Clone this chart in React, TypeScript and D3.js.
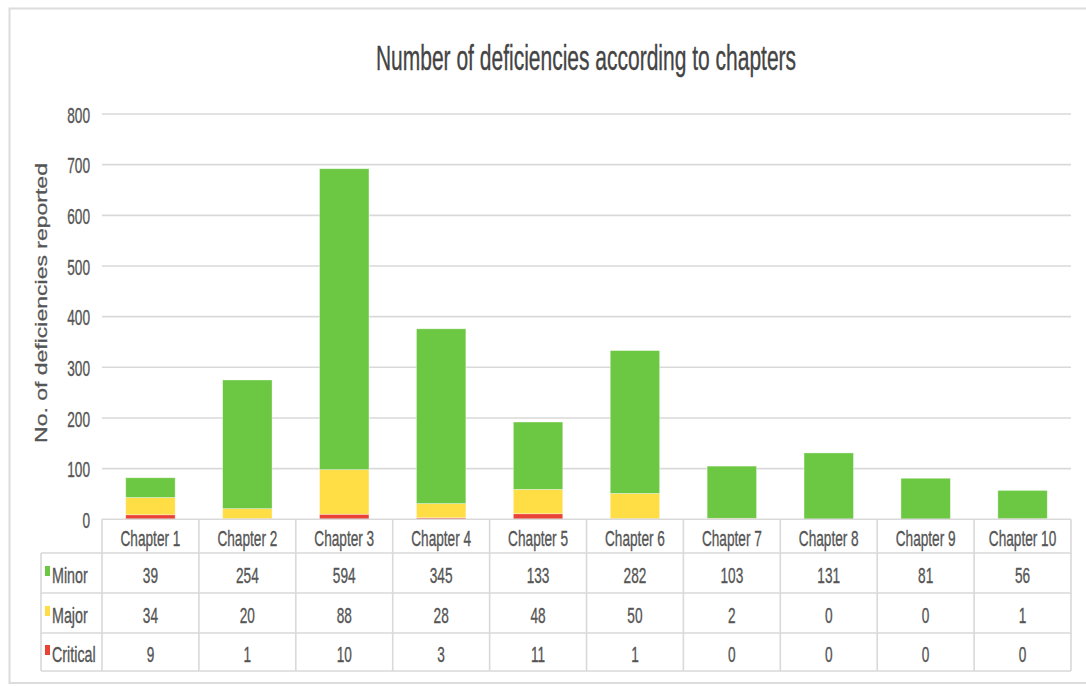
import React from "react";
import * as d3 from "d3";

// Chapters and deficiency counts per severity
const chapters = [
  "Chapter 1", "Chapter 2", "Chapter 3", "Chapter 4", "Chapter 5",
  "Chapter 6", "Chapter 7", "Chapter 8", "Chapter 9", "Chapter 10",
];
const minor = [39, 254, 594, 345, 133, 282, 103, 131, 81, 56];
const major = [34, 20, 88, 28, 48, 50, 2, 0, 0, 1];
const critical = [9, 1, 10, 3, 11, 1, 0, 0, 0, 0];
const yTicks = [0, 100, 200, 300, 400, 500, 600, 700, 800];

const seriesNames = ["Minor", "Major", "Critical"];
const seriesColors: Record<string, string> = {
  Minor: "#6cc742",
  Major: "#ffdd44",
  Critical: "#ea4237",
};

const W = 1086;
const H = 686;
const plotLeft = 102;
const plotRight = 1071;
const yZero = 519.3;
const yTop = 114;

const FONT = "'Liberation Sans', Arial, sans-serif";
const SX = 0.62; // condensed text width
const INK = "#555555";

type TxtProps = {
  x: number;
  y: number;
  size: number;
  anchor?: "start" | "middle" | "end";
  fill?: string;
  sx?: number;
  rotate?: number;
  children: React.ReactNode;
};

function Txt({ x, y, size, anchor = "middle", fill = INK, sx = SX, rotate = 0, children }: TxtProps) {
  return (
    <text
      transform={`translate(${x},${y}) scale(${sx},1)${rotate ? ` rotate(${rotate})` : ""}`}
      textAnchor={anchor}
      dominantBaseline="central"
      fontFamily={FONT}
      fontSize={size}
      fill={fill}
      stroke={fill}
      strokeWidth={0.35}
    >
      {children}
    </text>
  );
}

export default function App() {
  const x = d3.scaleBand<string>().domain(chapters).range([plotLeft, plotRight]).padding(0);
  const y = d3.scaleLinear().domain([0, 800]).range([yZero, yTop]);
  const bw = x.bandwidth();
  const barW = bw * 0.51;

  const rows = chapters.map((c, i) => ({
    chapter: c,
    Critical: critical[i],
    Major: major[i],
    Minor: minor[i],
  }));
  const stack = d3.stack<any>().keys(["Critical", "Major", "Minor"]);
  const layers = stack(rows);

  const tableValues: Record<string, number[]> = { Minor: minor, Major: major, Critical: critical };
  const headerTop = yZero;
  const rowEdges = [553, 593, 633, 671];
  const legendLeft = 41;
  const border = "#d9d9d9";

  return (
    <svg
      width={W}
      height={H}
      viewBox={`0 0 ${W} ${H}`}
      style={{ position: "absolute", left: 0, top: 0, background: "#fff" }}
    >
      {/* outer frame, running off the right edge */}
      <path d={`M${W + 5},8.5 H9.5 V683 H${W + 5}`} fill="none" stroke="#dcdcdc" strokeWidth={2} />

      <Txt x={586} y={58} size={35} sx={0.6} fill="#444444">
        Number of deficiencies according to chapters
      </Txt>

      {/* gridlines and y tick labels */}
      {yTicks.map((t) => (
        <g key={t}>
          {t > 0 && (
            <line x1={plotLeft} x2={plotRight} y1={y(t)} y2={y(t)} stroke={border} strokeWidth={1.6} />
          )}
          <Txt x={90} y={y(t) + 1} size={22} anchor="end">
            {t}
          </Txt>
        </g>
      ))}

      <Txt x={41} y={303} size={23} sx={0.7} rotate={-90}>
        No. of deficiencies reported
      </Txt>

      {/* stacked bars */}
      {layers.map((layer) => (
        <g key={layer.key} fill={seriesColors[layer.key]}>
          {layer.map((d, i) => {
            const h = y(d[0]) - y(d[1]);
            if (h <= 0) return null;
            return (
              <rect
                key={i}
                x={(x(chapters[i]) as number) + (bw - barW) / 2}
                y={y(d[1])}
                width={barW}
                height={h}
                stroke="#ffffff"
                strokeOpacity={0.45}
                strokeWidth={0.8}
              />
            );
          })}
        </g>
      ))}

      {/* data table */}
      <g stroke={border} strokeWidth={1.6} fill="none">
        <line x1={plotLeft} x2={plotRight} y1={headerTop} y2={headerTop} />
        {rowEdges.map((ry) => (
          <line key={ry} x1={legendLeft} x2={plotRight} y1={ry} y2={ry} />
        ))}
        <line x1={legendLeft} x2={legendLeft} y1={rowEdges[0]} y2={rowEdges[3]} />
        {chapters.map((c) => (
          <line key={c} x1={x(c) as number} x2={x(c) as number} y1={headerTop} y2={rowEdges[3]} />
        ))}
        <line x1={plotRight} x2={plotRight} y1={headerTop} y2={rowEdges[3]} />
      </g>

      {chapters.map((c) => (
        <Txt key={c} x={(x(c) as number) + bw / 2} y={(headerTop + rowEdges[0]) / 2 + 2} size={22}>
          {c}
        </Txt>
      ))}

      {seriesNames.map((s, r) => {
        const cy = (rowEdges[r] + rowEdges[r + 1]) / 2 + 2;
        return (
          <g key={s}>
            <rect x={45} y={cy - 9} width={5} height={10} fill={seriesColors[s]} />
            <Txt x={52} y={cy} size={22} anchor="start" sx={0.65}>
              {s}
            </Txt>
            {tableValues[s].map((v, i) => (
              <Txt key={i} x={(x(chapters[i]) as number) + bw / 2} y={cy} size={22}>
                {v}
              </Txt>
            ))}
          </g>
        );
      })}
    </svg>
  );
}
